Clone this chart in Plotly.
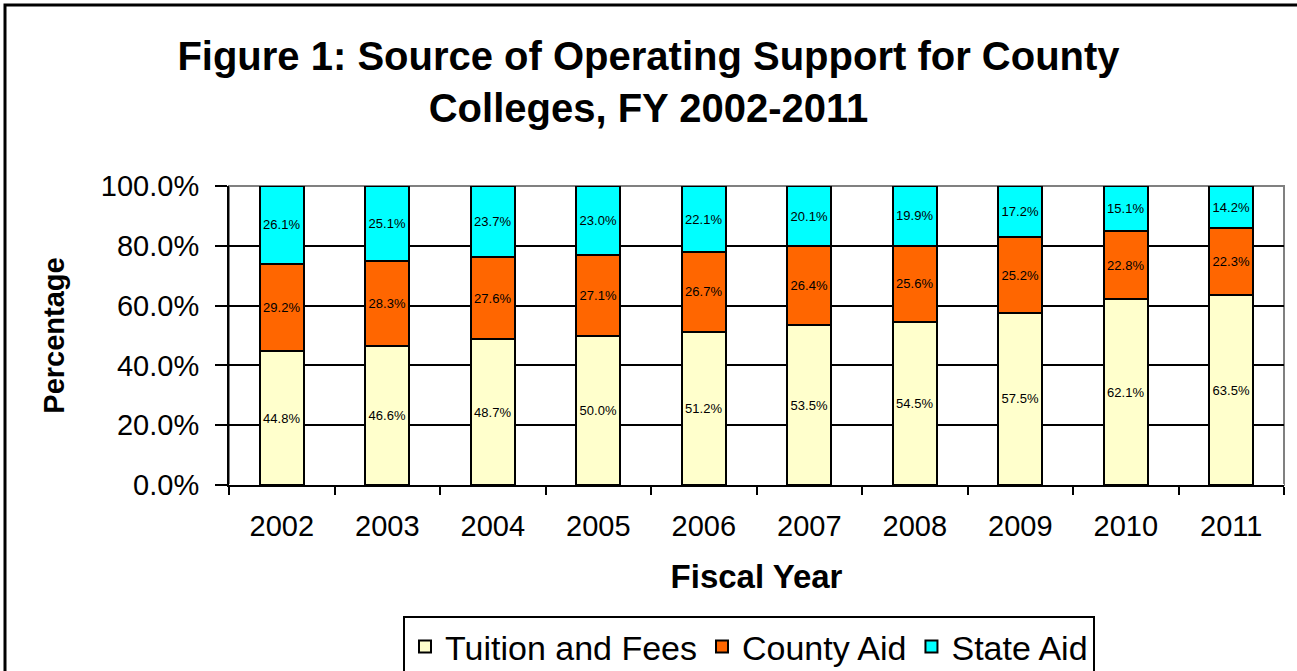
import plotly.graph_objects as go

years = ["2002", "2003", "2004", "2005", "2006", "2007", "2008", "2009", "2010", "2011"]
tuition = [44.8, 46.6, 48.7, 50.0, 51.2, 53.5, 54.5, 57.5, 62.1, 63.5]
county = [29.2, 28.3, 27.6, 27.1, 26.7, 26.4, 25.6, 25.2, 22.8, 22.3]
state = [26.1, 25.1, 23.7, 23.0, 22.1, 20.1, 19.9, 17.2, 15.1, 14.2]
y_ticks = [0, 20, 40, 60, 80, 100]
y_tick_text = ["0.0%", "20.0%", "40.0%", "60.0%", "80.0%", "100.0%"]

series = [
    ("Tuition and Fees", tuition, "#FFFFCC"),
    ("County Aid", county, "#FF6600"),
    ("State Aid", state, "#00FFFF"),
]

fig = go.Figure()
for name, vals, color in series:
    fig.add_trace(go.Bar(
        name=name, x=years, y=vals,
        marker=dict(color=color, line=dict(color="black", width=2)),
        text=[f"{v:.1f}%" for v in vals],
        textposition="inside", insidetextanchor="middle", textangle=0,
        textfont=dict(family="Liberation Sans, Arial", size=13, color="black"),
        hoverinfo="skip",
    ))

L, R, T, B = 229, 13, 186, 186
W, H = 1297, 671
pw, ph = W - L - R, H - T - B

def px_x(p):
    return (p - L) / pw

def px_y(p):
    return (H - B - p) / ph

fig.update_layout(
    width=W, height=H,
    barmode="stack", barnorm="percent", bargap=0.58,
    margin=dict(l=L, r=R, t=T, b=B, autoexpand=False),
    paper_bgcolor="white", plot_bgcolor="white",
    font=dict(family="Liberation Sans, Arial", color="black"),
    title=dict(
        text="<b>Figure 1: Source of Operating Support for County<br>Colleges, FY 2002-2011</b>",
        x=0.5, xanchor="center", y=1 - 70 / H, yanchor="middle",
        font=dict(size=40, family="Liberation Sans, Arial", color="black"),
    ),
    xaxis=dict(
        showline=True, linecolor="black", linewidth=2,
        ticks="outside", ticklen=8, tickwidth=2, tickcolor="black",
        tickson="boundaries", ticklabelstandoff=14,
        tickfont=dict(size=29), showgrid=False,
        title=dict(text="<b>Fiscal Year</b>", font=dict(size=33), standoff=24),
    ),
    yaxis=dict(
        range=[0, 100], tickvals=y_ticks, ticktext=y_tick_text,
        showline=True, linecolor="black", linewidth=2,
        ticks="outside", ticklen=12, tickwidth=2, tickcolor="black",
        ticklabelstandoff=10,
        tickfont=dict(size=29),
        showgrid=True, gridcolor="black", gridwidth=1.5,
        title=dict(text="<b>Percentage</b>", font=dict(size=29), standoff=28),
    ),
    legend=dict(
        orientation="h", xref="container", x=749 / W, xanchor="center",
        yref="container", y=1 - 647 / H, yanchor="middle",
        bordercolor="black", borderwidth=2,
        font=dict(size=34), traceorder="normal",
        itemsizing="constant",
    ),
    shapes=[
        dict(type="rect", xref="paper", yref="paper", x0=0, x1=1, y0=0, y1=1,
             line=dict(color="#808080", width=2), layer="below"),
        dict(type="rect", xref="paper", yref="paper",
             x0=px_x(5), x1=px_x(1310), y0=px_y(690), y1=px_y(5),
             line=dict(color="black", width=3), fillcolor="rgba(0,0,0,0)"),
    ],
)

fig.write_html("out.html")
